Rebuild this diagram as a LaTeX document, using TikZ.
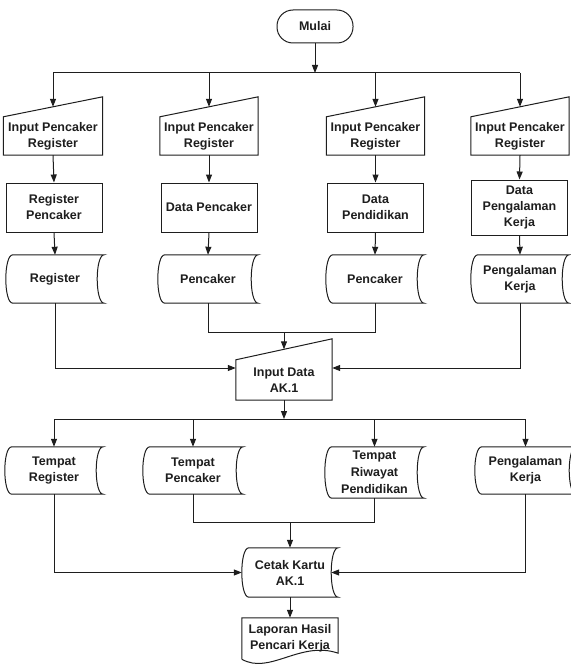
\documentclass[tikz,border=0pt]{standalone}
\usepackage{fontspec}
\setmainfont{Liberation Sans}
\usetikzlibrary{arrows.meta,calc}
\definecolor{ink}{HTML}{1E1E1E}
\tikzset{
  lbl/.style={font=\fontsize{12.5}{16}\selectfont\bfseries, text=ink, align=center, inner sep=0pt, draw=none, rectangle},
  procbox/.style={lbl, draw=ink, line width=1pt, minimum width=96pt},
  termbox/.style={lbl, draw=ink, line width=1pt, rounded corners=16pt, minimum width=76pt, minimum height=33pt},
  shp/.style={line width=1pt, draw=ink},
  conn/.style={line width=1pt, draw=ink},
  arr/.style={conn, -{Triangle[length=8pt,width=6pt]}},
}
\newcommand\maninshape[2]{\draw[shp] (#1.south west) -- (#1.north west) -- ([yshift=#2]#1.north east) -- (#1.south east) -- cycle;}
\newcommand\storedshape[1]{\draw[shp] ([xshift=7pt]#1.north west) -- (#1.north east)
   .. controls ([xshift=-9.33pt]#1.north east) and ([xshift=-9.33pt]#1.south east) .. (#1.south east)
   -- ([xshift=7pt]#1.south west)
   .. controls ([xshift=-2.33pt]#1.south west) and ([xshift=-2.33pt]#1.north west) .. ([xshift=7pt]#1.north west) -- cycle;}
\begin{document}
\begin{tikzpicture}[x=1pt,y=-1pt]
\useasboundingbox (0,0) rectangle (570,666);
\fill[white] (0,0) rectangle (570,666);

% start
\node[termbox] (mulai) at (315,26.5) {Mulai};
\coordinate (bus1) at (0,73);

% row 1 manual inputs
\node[lbl, minimum width=99pt, minimum height=38pt] (in1) at (53,136) {Input Pencaker\\Register};
\node[lbl, minimum width=98pt, minimum height=38pt] (in2) at (209,136) {Input Pencaker\\Register};
\node[lbl, minimum width=98pt, minimum height=38pt] (in3) at (375.5,136) {Input Pencaker\\Register};
\node[lbl, minimum width=98pt, minimum height=38pt] (in4) at (520,136) {Input Pencaker\\Register};
\foreach \n in {in1,in2,in3,in4} {\maninshape{\n}{20pt}}

% processes
\node[procbox, minimum height=49pt] (p1) at (54,207.5) {Register\\Pencaker};
\node[procbox, minimum height=49pt] (p2) at (209,207.5) {Data Pencaker};
\node[procbox, minimum height=49pt] (p3) at (375.5,207.5) {Data\\Pendidikan};
\node[procbox, minimum height=55pt] (p4) at (519.5,207.5) {Data\\Pengalaman\\Kerja};

% stored data row 1
\node[lbl, minimum width=98pt, minimum height=48pt] (s1) at (55,279) {Register};
\node[lbl, minimum width=100pt, minimum height=48pt] (s2) at (208,279) {Pencaker};
\node[lbl, minimum width=98pt, minimum height=48pt] (s3) at (375,279) {Pencaker};
\node[lbl, minimum width=98pt, minimum height=48pt] (s4) at (520,279) {Pengalaman\\Kerja};
\foreach \n in {s1,s2,s3,s4} {\storedshape{\n}}

% input data AK.1
\node[lbl, minimum width=96pt, minimum height=40pt] (ind) at (284,380) {Input Data\\AK.1};
\maninshape{ind}{21pt}
\coordinate (j1) at (284,332);
\coordinate (bus2) at (0,419);

% stored data row 2
\node[lbl, minimum width=98pt, minimum height=47pt] (t1) at (54,470.5) {Tempat\\Register};
\node[lbl, minimum width=100pt, minimum height=47pt] (t2) at (193,470.5) {Tempat\\Pencaker};
\node[lbl, minimum width=99pt, minimum height=51pt, font=\fontsize{12.5}{17}\selectfont\bfseries] (t3) at (374.5,472.5) {Tempat\\Riwayat\\Pendidikan};
\node[lbl, minimum width=101pt, minimum height=47pt] (t4) at (525.5,470.5) {Pengalaman\\Kerja};
\foreach \n in {t1,t2,t3,t4} {\storedshape{\n}}
\coordinate (j2) at (290,522);

% cetak kartu
\node[lbl, minimum width=96pt, minimum height=49pt] (cetak) at (290,572.5) {Cetak Kartu\\AK.1};
\storedshape{cetak}

% laporan
\node[lbl, minimum width=96pt, minimum height=41pt] (lap) at (290,638.5) {Laporan Hasil\\Pencari Kerja};
\draw[shp] (lap.south west) -- (lap.north west) -- (lap.north east) -- ([yshift=6pt]lap.south east)
  .. controls ([xshift=-38pt,yshift=19pt]lap.south east) and ([xshift=28pt,yshift=-16pt]lap.south west) .. (lap.south west);

% connectors top part
\draw[arr] (mulai.south) -- (mulai.south |- bus1);
\draw[conn] (bus1 -| in1) -- (bus1 -| in4);
\foreach \n in {in1,in2,in3,in4} {\draw[arr] (bus1 -| \n) -- ([yshift=10pt]\n.north);}
\foreach \i in {1,2,3,4} {
  \draw[arr] (in\i.south) -- (p\i.north);
  \draw[arr] (p\i.south) -- (s\i.north);
}
\draw[arr] (s1.south) |- ([yshift=12pt]ind.west);
\draw[arr] (s4.south) |- ([yshift=12pt]ind.east);
\draw[conn] (s2.south) |- (j1);
\draw[conn] (s3.south) |- (j1);
\draw[arr] (j1) -- ([yshift=10.5pt]ind.north);

% middle bus
\draw[arr] (ind.south) -- (ind.south |- bus2);
\draw[conn] (bus2 -| t1) -- (bus2 -| t4);
\foreach \n in {t1,t2,t3,t4} {\draw[arr] (bus2 -| \n) -- (\n.north);}

% lower connectors
\draw[arr] (t1.south) |- (cetak.west);
\draw[arr] (t4.south) |- ([xshift=-7pt]cetak.east);
\draw[conn] (t2.south) |- (j2);
\draw[conn] (t3.south) |- (j2);
\draw[arr] (j2) -- (cetak.north);
\draw[arr] (cetak.south) -- (lap.north);
\end{tikzpicture}
\end{document}
